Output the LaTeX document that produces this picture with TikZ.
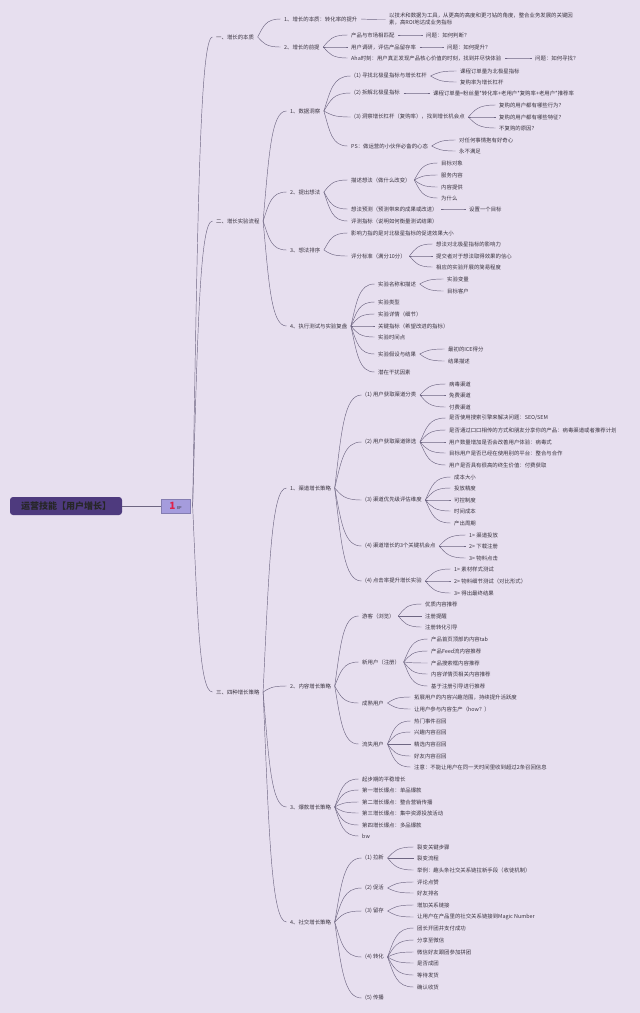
\documentclass[tikz,border=0pt]{standalone}
\usepackage{fontspec}
\setmainfont{Noto Sans CJK SC}
\usetikzlibrary{calc}
\definecolor{bg}{HTML}{E7DFEF}
\definecolor{lnc}{HTML}{6E6682}
\definecolor{txt}{HTML}{3A3440}
\definecolor{rootfill}{HTML}{4E3A7E}
\definecolor{badgefill}{HTML}{A59CDD}
\definecolor{badgered}{HTML}{E0204A}
\tikzset{
  t/.style={anchor=west, inner sep=1pt, text=txt, font=\fontsize{5.4}{6.8}\selectfont},
  ln/.style={draw=lnc, line width=0.45pt},
}
\newcommand\mmn[4]{\node[t] (#1) at (#2,#3) {#4};}
\newcommand\mml[2]{\draw[ln] let \p1=($(#1.east)+(2.5pt,0)$), \p2=($(#2.west)+(-2.5pt,0)$) in (\p1) .. controls ({\x1+0.25*(\x2-\x1)},{\y1+0.6*(\y2-\y1)}) and ({\x1+0.35*(\x2-\x1)},{\y2}) .. (\p2);}
\begin{document}
\begin{tikzpicture}[x=1pt,y=-1pt]
\fill[bg] (0,0) rectangle (640,1013);
\useasboundingbox (0,0) rectangle (640,1013);
% root
\node[fill=rootfill, rounded corners=3pt, minimum width=112pt, minimum height=18pt, inner sep=0pt, text=black!85, font=\fontsize{9}{10}\selectfont\bfseries] (root) at (66,506) {运营技能【用户增长】};
\node[fill=badgefill, draw=badgefill!80!black, line width=0.3pt, minimum width=29pt, minimum height=14pt, inner sep=0pt] (badge) at (175.5,506) {{\color{badgered}\fontsize{10}{10}\selectfont\bfseries 1}\hspace{1.5pt}{\color{txt}\fontsize{4}{4}\selectfont 8P}};
\draw[ln] (root.east) -- (badge.west);
% level 1
\mmn{n1}{215}{37}{一、增长的本质}
\mmn{n2}{215}{221}{二、增长实验流程}
\mmn{n3}{215}{692}{三、四种增长策略}
\mml{badge}{n1}\mml{badge}{n2}\mml{badge}{n3}
% ---- 一
\mmn{a1}{283}{19}{1、增长的本质：转化率的提升}
\node[t, align=left, font=\fontsize{5.4}{7}\selectfont] (a1c) at (388,19.5) {以技术和数据为工具，从更高的高度和更刁钻的角度，整合业务发展的关键因\\素，高ROI地达成业务指标};
\mmn{a2}{283}{47}{2、增长的前提}
\mmn{a2a}{350}{35}{产品与市场相匹配}
\mmn{a2aq}{425}{35}{问题：如何判断？}
\mmn{a2b}{350}{47}{用户调研，评估产品留存率}
\mmn{a2bq}{446}{47}{问题：如何提升？}
\mmn{a2c}{350}{58}{Aha时刻：用户真正发现产品核心价值的时刻，找到并尽快体验}
\mmn{a2cq}{534}{58}{问题：如何寻找？}
\mml{n1}{a1}\mml{n1}{a2}\mml{a1}{a1c}
\mml{a2}{a2a}\mml{a2}{a2b}\mml{a2}{a2c}
\mml{a2a}{a2aq}\mml{a2b}{a2bq}\mml{a2c}{a2cq}
% ---- 二
\mmn{b1}{289}{111}{1、数据洞察}
\mmn{b1a}{353}{76}{(1) 寻找北极星指标与增长杠杆}
\mmn{b1a1}{459}{71}{课程订单量为北极星指标}
\mmn{b1a2}{459}{82}{复购率为增长杠杆}
\mmn{b1b}{353}{93}{(2) 拆解北极星指标}
\mmn{b1b1}{432}{93}{课程订单量=粉丝量*转化率+老用户*复购率+老用户*推荐率}
\mmn{b1c}{353}{117}{(3) 洞察增长杠杆（复购率），找到增长机会点}
\mmn{b1c1}{498}{105}{复购的用户都有哪些行为？}
\mmn{b1c2}{498}{117}{复购的用户都有哪些特征？}
\mmn{b1c3}{498}{128}{不复购的原因？}
\mmn{b1d}{350}{146}{PS：做运营的小伙伴必备的心态}
\mmn{b1d1}{458}{140}{对任何事情抱有好奇心}
\mmn{b1d2}{458}{151}{永不满足}
\mml{n2}{b1}
\mml{b1}{b1a}\mml{b1}{b1b}\mml{b1}{b1c}\mml{b1}{b1d}
\mml{b1a}{b1a1}\mml{b1a}{b1a2}\mml{b1b}{b1b1}
\mml{b1c}{b1c1}\mml{b1c}{b1c2}\mml{b1c}{b1c3}
\mml{b1d}{b1d1}\mml{b1d}{b1d2}
\mmn{b2}{289}{192}{2、提出想法}
\mmn{b2a}{350}{180}{描述想法（做什么改变）}
\mmn{b2a1}{440}{163}{目标对象}
\mmn{b2a2}{440}{175}{服务内容}
\mmn{b2a3}{440}{187}{内容提供}
\mmn{b2a4}{440}{198}{为什么}
\mmn{b2b}{350}{209}{想法预测（预测带来的成果或改进）}
\mmn{b2b1}{468}{209}{设置一个目标}
\mmn{b2c}{350}{221}{评测指标（说明如何衡量测试结果）}
\mml{n2}{b2}
\mml{b2}{b2a}\mml{b2}{b2b}\mml{b2}{b2c}
\mml{b2a}{b2a1}\mml{b2a}{b2a2}\mml{b2a}{b2a3}\mml{b2a}{b2a4}
\mml{b2b}{b2b1}
\mmn{b3}{289}{250}{3、想法排序}
\mmn{b3a}{350}{233}{影响力指的是对北极星指标的促进效果大小}
\mmn{b3b}{350}{256}{评分标准（满分10分）}
\mmn{b3b1}{435}{244}{想法对北极星指标的影响力}
\mmn{b3b2}{435}{256}{提交者对于想法取得效果的信心}
\mmn{b3b3}{435}{267}{相应的实验开展的简易程度}
\mml{n2}{b3}
\mml{b3}{b3a}\mml{b3}{b3b}
\mml{b3b}{b3b1}\mml{b3b}{b3b2}\mml{b3b}{b3b3}
\mmn{b4}{289}{326}{4、执行测试与实验复盘}
\mmn{b4a}{377}{284}{实验名称和描述}
\mmn{b4a1}{446}{279}{实验变量}
\mmn{b4a2}{446}{291}{目标客户}
\mmn{b4b}{377}{302}{实验类型}
\mmn{b4c}{377}{314}{实验详情（细节）}
\mmn{b4d}{377}{326}{关键指标（希望改进的指标）}
\mmn{b4e}{377}{337}{实验时间点}
\mmn{b4f}{377}{354}{实验假设与结果}
\mmn{b4f1}{447}{349}{最初的ICE得分}
\mmn{b4f2}{447}{361}{结果描述}
\mmn{b4g}{377}{372}{潜在干扰因素}
\mml{n2}{b4}
\mml{b4}{b4a}\mml{b4}{b4b}\mml{b4}{b4c}\mml{b4}{b4d}\mml{b4}{b4e}\mml{b4}{b4f}\mml{b4}{b4g}
\mml{b4a}{b4a1}\mml{b4a}{b4a2}\mml{b4f}{b4f1}\mml{b4f}{b4f2}
% ---- 三
\mmn{c1}{289}{488}{1、渠道增长策略}
\mmn{c1a}{364}{395}{(1) 用户获取渠道分类}
\mmn{c1a1}{448}{384}{病毒渠道}
\mmn{c1a2}{448}{395}{免费渠道}
\mmn{c1a3}{448}{407}{付费渠道}
\mmn{c1b}{364}{442}{(2) 用户获取渠道筛选}
\mmn{c1b1}{448}{418}{是否使用搜索引擎来解决问题：SEO/SEM}
\mmn{c1b2}{448}{430}{是否通过口口相传的方式和朋友分享你的产品：病毒渠道或者推荐计划}
\mmn{c1b3}{448}{442}{用户数量增加是否会改善用户体验：病毒式}
\mmn{c1b4}{448}{453}{目标用户是否已经在使用别的平台：整合与合作}
\mmn{c1b5}{448}{465}{用户是否具有很高的终生价值：付费获取}
\mmn{c1c}{364}{500}{(3) 渠道优先级评估维度}
\mmn{c1c1}{453}{477}{成本大小}
\mmn{c1c2}{453}{488}{投放精度}
\mmn{c1c3}{453}{500}{可控制度}
\mmn{c1c4}{453}{511}{时间成本}
\mmn{c1c5}{453}{523}{产出周期}
\mmn{c1d}{364}{546}{(4) 渠道增长的3个关键机会点}
\mmn{c1d1}{468}{535}{1> 渠道投放}
\mmn{c1d2}{468}{546}{2> 下载注册}
\mmn{c1d3}{468}{558}{3> 物料点击}
\mmn{c1e}{364}{581}{(4) 点击率提升增长实验}
\mmn{c1e1}{453}{569}{1> 素材样式测试}
\mmn{c1e2}{453}{581}{2> 物料细节测试（对比形式）}
\mmn{c1e3}{453}{593}{3> 得出最终结果}
\mml{n3}{c1}
\mml{c1}{c1a}\mml{c1}{c1b}\mml{c1}{c1c}\mml{c1}{c1d}\mml{c1}{c1e}
\mml{c1a}{c1a1}\mml{c1a}{c1a2}\mml{c1a}{c1a3}
\mml{c1b}{c1b1}\mml{c1b}{c1b2}\mml{c1b}{c1b3}\mml{c1b}{c1b4}\mml{c1b}{c1b5}
\mml{c1c}{c1c1}\mml{c1c}{c1c2}\mml{c1c}{c1c3}\mml{c1c}{c1c4}\mml{c1c}{c1c5}
\mml{c1d}{c1d1}\mml{c1d}{c1d2}\mml{c1d}{c1d3}
\mml{c1e}{c1e1}\mml{c1e}{c1e2}\mml{c1e}{c1e3}
\mmn{c2}{289}{686}{2、内容增长策略}
\mmn{c2a}{361}{616}{游客（浏览）}
\mmn{c2a1}{424}{604}{优质内容推荐}
\mmn{c2a2}{424}{616}{注册提醒}
\mmn{c2a3}{424}{627}{注册转化引导}
\mmn{c2b}{361}{662}{新用户（注册）}
\mmn{c2b1}{430}{639}{产品首页顶部的内容tab}
\mmn{c2b2}{430}{651}{产品Feed流内容推荐}
\mmn{c2b3}{430}{663}{产品搜索框内容推荐}
\mmn{c2b4}{430}{674}{内容详情页相关内容推荐}
\mmn{c2b5}{430}{686}{基于注册引导进行推荐}
\mmn{c2c}{361}{703}{成熟用户}
\mmn{c2c1}{413}{697}{拓展用户的内容兴趣范围，持续提升活跃度}
\mmn{c2c2}{413}{709}{让用户参与内容生产（how？）}
\mmn{c2d}{361}{744}{流失用户}
\mmn{c2d1}{413}{721}{热门事件召回}
\mmn{c2d2}{413}{732}{兴趣内容召回}
\mmn{c2d3}{413}{744}{精选内容召回}
\mmn{c2d4}{413}{756}{好友内容召回}
\mmn{c2d5}{413}{767}{注意：不能让用户在同一天时间里收到超过2条召回信息}
\mml{n3}{c2}
\mml{c2}{c2a}\mml{c2}{c2b}\mml{c2}{c2c}\mml{c2}{c2d}
\mml{c2a}{c2a1}\mml{c2a}{c2a2}\mml{c2a}{c2a3}
\mml{c2b}{c2b1}\mml{c2b}{c2b2}\mml{c2b}{c2b3}\mml{c2b}{c2b4}\mml{c2b}{c2b5}
\mml{c2c}{c2c1}\mml{c2c}{c2c2}
\mml{c2d}{c2d1}\mml{c2d}{c2d2}\mml{c2d}{c2d3}\mml{c2d}{c2d4}\mml{c2d}{c2d5}
\mmn{c3}{289}{807}{3、爆款增长策略}
\mmn{c31}{361}{779}{起步期的平稳增长}
\mmn{c32}{361}{790}{第一增长爆点：单品爆款}
\mmn{c33}{361}{802}{第二增长爆点：整合营销传播}
\mmn{c34}{361}{813}{第三增长爆点：集中资源投放活动}
\mmn{c35}{361}{825}{第四增长爆点：多品爆款}
\mmn{c36}{361}{836}{bw}
\mml{n3}{c3}
\mml{c3}{c31}\mml{c3}{c32}\mml{c3}{c33}\mml{c3}{c34}\mml{c3}{c35}\mml{c3}{c36}
\mmn{c4}{289}{922}{4、社交增长策略}
\mmn{c4a}{364}{858}{(1) 拉新}
\mmn{c4a1}{416}{847}{裂变关键步骤}
\mmn{c4a2}{416}{858}{裂变流程}
\mmn{c4a3}{416}{870}{举例：趣头条社交关系链拉新手段（收徒机制）}
\mmn{c4b}{364}{888}{(2) 促活}
\mmn{c4b1}{416}{882}{评论点赞}
\mmn{c4b2}{416}{893}{好友排名}
\mmn{c4c}{364}{911}{(3) 留存}
\mmn{c4c1}{416}{905}{增加关系链接}
\mmn{c4c2}{416}{917}{让用户在产品里的社交关系链接到Magic Number}
\mmn{c4d}{364}{957}{(4) 转化}
\mmn{c4d1}{416}{928}{团长开团并支付成功}
\mmn{c4d2}{416}{940}{分享至微信}
\mmn{c4d3}{416}{952}{微信好友跟团参加拼团}
\mmn{c4d4}{416}{963}{是否成团}
\mmn{c4d5}{416}{975}{等待发货}
\mmn{c4d6}{416}{987}{确认收货}
\mmn{c4e}{364}{998}{(5) 传播}
\mml{n3}{c4}
\mml{c4}{c4a}\mml{c4}{c4b}\mml{c4}{c4c}\mml{c4}{c4d}\mml{c4}{c4e}
\mml{c4a}{c4a1}\mml{c4a}{c4a2}\mml{c4a}{c4a3}
\mml{c4b}{c4b1}\mml{c4b}{c4b2}
\mml{c4c}{c4c1}\mml{c4c}{c4c2}
\mml{c4d}{c4d1}\mml{c4d}{c4d2}\mml{c4d}{c4d3}\mml{c4d}{c4d4}\mml{c4d}{c4d5}\mml{c4d}{c4d6}
\end{tikzpicture}
\end{document}
